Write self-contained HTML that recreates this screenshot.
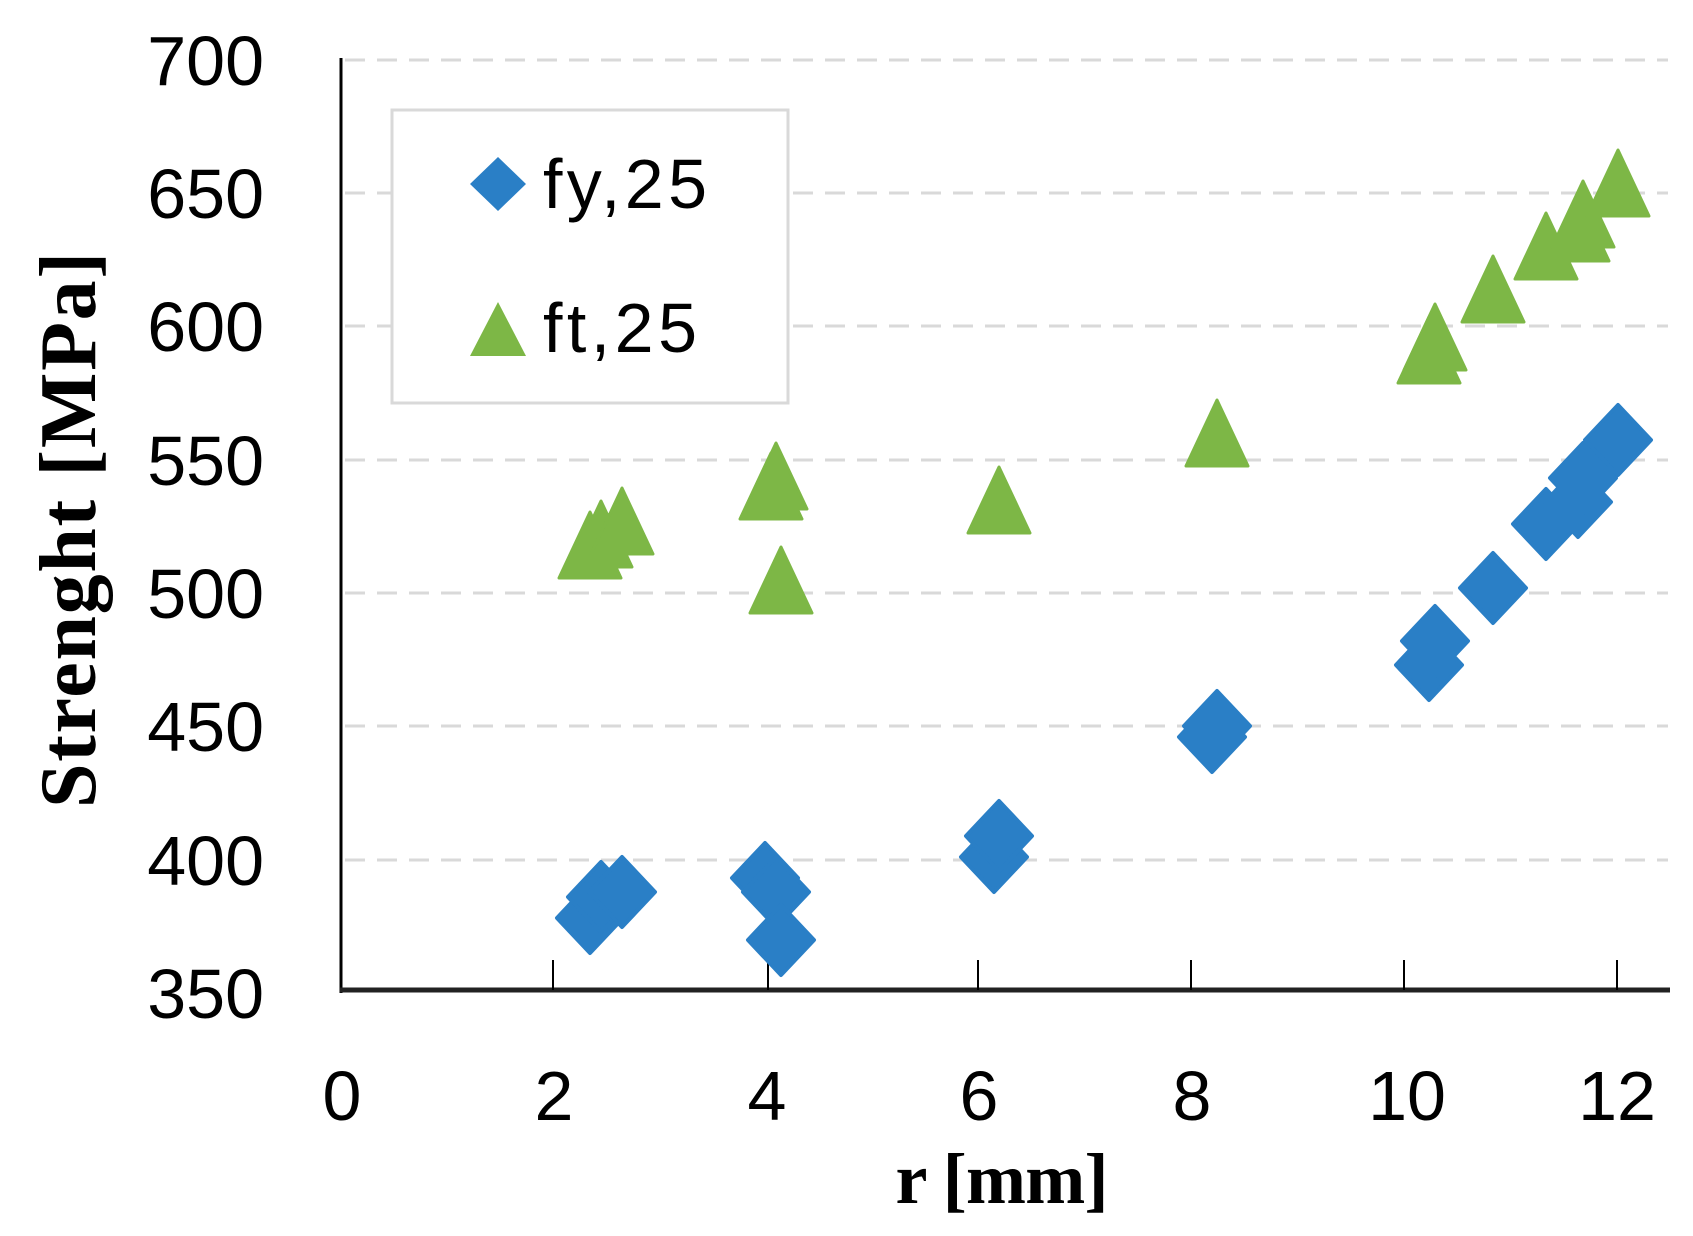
<!DOCTYPE html>
<html><head><meta charset="utf-8"><style>html,body{margin:0;padding:0;background:#fff}svg{display:block}</style></head>
<body>
<svg width="1693" height="1236" viewBox="0 0 1693 1236" xmlns="http://www.w3.org/2000/svg">
<defs>
<path id="d" d="M0,-35 L33,0 L0,35 L-33,0 Z" fill="#2A7FC6" stroke="#2A7FC6" stroke-width="4" stroke-linejoin="round"/>
<path id="t" d="M0,-33 L31,33 L-31,33 Z" fill="#7DB746" stroke="#7DB746" stroke-width="3" stroke-linejoin="round"/>
</defs>
<g stroke="#d9d9d9" stroke-width="3" stroke-dasharray="20 12">
<line x1="345" y1="60" x2="1668" y2="60"/>
<line x1="345" y1="193" x2="1668" y2="193"/>
<line x1="345" y1="326" x2="1668" y2="326"/>
<line x1="345" y1="460" x2="1668" y2="460"/>
<line x1="345" y1="593" x2="1668" y2="593"/>
<line x1="345" y1="726" x2="1668" y2="726"/>
<line x1="345" y1="860" x2="1668" y2="860"/>
</g>
<line x1="341" y1="58" x2="341" y2="993" stroke="#000" stroke-width="3"/>
<line x1="340" y1="990" x2="1670" y2="990" stroke="#222" stroke-width="5"/>
<g stroke="#000" stroke-width="2">
<line x1="553" y1="960" x2="553" y2="990"/><line x1="768" y1="960" x2="768" y2="990"/>
<line x1="978" y1="960" x2="978" y2="990"/><line x1="1191" y1="960" x2="1191" y2="990"/>
<line x1="1404" y1="960" x2="1404" y2="990"/><line x1="1617" y1="960" x2="1617" y2="990"/>
</g>
<g font-family="Liberation Sans, sans-serif" font-size="70" fill="#000" text-anchor="end">
<text x="264" y="85">700</text><text x="264" y="218">650</text><text x="264" y="351">600</text>
<text x="264" y="485">550</text><text x="264" y="618">500</text><text x="264" y="751">450</text>
<text x="264" y="885">400</text><text x="264" y="1018">350</text>
</g>
<g font-family="Liberation Sans, sans-serif" font-size="70" fill="#000" text-anchor="middle">
<text x="342" y="1120">0</text><text x="554" y="1120">2</text><text x="767" y="1120">4</text>
<text x="979" y="1120">6</text><text x="1192" y="1120">8</text><text x="1407" y="1120">10</text><text x="1617" y="1120">12</text>
</g>
<text x="1002" y="1203" font-family="Liberation Serif, serif" font-weight="bold" font-size="72" text-anchor="middle" textLength="213">r [mm]</text>
<text transform="translate(95,530) rotate(-90)" font-family="Liberation Serif, serif" font-weight="bold" font-size="80" text-anchor="middle" textLength="556">Strenght [MPa]</text>
<rect x="392" y="110" width="396" height="293" fill="#fff" stroke="#d9d9d9" stroke-width="3"/>
<path d="M498,157 L526,184 L498,211 L470,184 Z" fill="#2A7FC6"/>
<text x="543" y="208" font-family="Liberation Sans, sans-serif" font-size="70" textLength="164">fy,25</text>
<path d="M498,302 L526,356 L470,356 Z" fill="#7DB746"/>
<text x="543" y="352" font-family="Liberation Sans, sans-serif" font-size="70" textLength="154">ft,25</text>
<g transform="translate(-7,0)">
<use href="#t" x="597" y="545"/><use href="#t" x="608" y="534"/><use href="#t" x="629" y="521"/>
<use href="#t" x="778" y="486"/><use href="#t" x="783" y="476"/><use href="#t" x="788" y="580"/>
<use href="#t" x="1006" y="500"/><use href="#t" x="1224" y="433"/>
<use href="#t" x="1436" y="350"/><use href="#t" x="1442" y="337"/><use href="#t" x="1500" y="289"/>
<use href="#t" x="1553" y="246"/><use href="#t" x="1585" y="228"/><use href="#t" x="1590" y="214"/><use href="#t" x="1625" y="183"/>
</g>
<g transform="translate(-7,0)">
<use href="#d" x="597" y="918"/><use href="#d" x="608" y="897"/><use href="#d" x="629" y="892"/>
<use href="#d" x="772" y="878"/><use href="#d" x="783" y="892"/><use href="#d" x="788" y="940"/>
<use href="#d" x="1001" y="857"/><use href="#d" x="1006" y="836"/>
<use href="#d" x="1219" y="737"/><use href="#d" x="1224" y="726"/>
<use href="#d" x="1436" y="665"/><use href="#d" x="1442" y="641"/><use href="#d" x="1500" y="588"/>
<use href="#d" x="1553" y="524"/><use href="#d" x="1585" y="502"/><use href="#d" x="1590" y="478"/><use href="#d" x="1625" y="440"/>
</g>
</svg>
</body></html>
